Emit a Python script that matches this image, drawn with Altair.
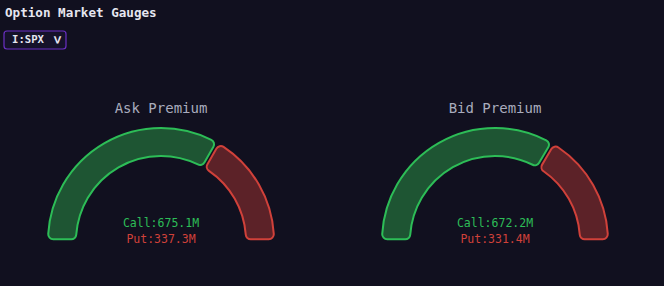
import math
import altair as alt
import pandas as pd

gauges = ["Ask Premium", "Bid Premium"]
sides = ["Call", "Put"]
call_values = [675.1, 672.2]
put_values = [337.3, 331.4]
call_labels = ["Call:675.1M", "Call:672.2M"]
put_labels = ["Put:337.3M", "Put:331.4M"]
ticker = "I:SPX"
main_title = "Option Market Gauges"

rows = []
for g, c, p in zip(gauges, call_values, put_values):
    rows.append({"gauge": g, "side": "Call", "value": c, "idx": 0})
    rows.append({"gauge": g, "side": "Put", "value": p, "idx": 1})
arc_df = pd.DataFrame(rows)
lab_df = pd.DataFrame({"gauge": gauges, "call": call_labels, "put": put_labels})

BG = "#11101f"
FONT = "DejaVu Sans Mono"
centers = [161, 495]
CY = 241

layers = []
for g, cx in zip(gauges, centers):
    arc = alt.Chart(arc_df).transform_filter(alt.datum.gauge == g).mark_arc(
        innerRadius=85, outerRadius=113, cornerRadius=5, padAngle=0.025, strokeWidth=2
    ).encode(
        theta=alt.Theta("value:Q", stack="normalize",
                        scale=alt.Scale(range=[-math.pi / 2, math.pi / 2])),
        order=alt.Order("idx:Q"),
        fill=alt.Fill("side:N", scale=alt.Scale(domain=sides, range=["#1e5533", "#5c2228"]), legend=None),
        stroke=alt.Stroke("side:N", scale=alt.Scale(domain=sides, range=["#2dbd57", "#d0413a"]), legend=None),
        x=alt.value(cx), y=alt.value(CY),
    )
    base = alt.Chart(lab_df).transform_filter(alt.datum.gauge == g)
    title = base.mark_text(font=FONT, fontSize=14, color="#a9acbd", align="center", baseline="middle").encode(
        text="gauge:N", x=alt.value(cx), y=alt.value(109))
    call = base.mark_text(font=FONT, fontSize=11.5, color="#2dbd57", align="center", baseline="middle").encode(
        text="call:N", x=alt.value(cx), y=alt.value(224))
    put = base.mark_text(font=FONT, fontSize=11.5, color="#d0413a", align="center", baseline="middle").encode(
        text="put:N", x=alt.value(cx), y=alt.value(240))
    layers += [arc, title, call, put]

hdr = alt.Chart(pd.DataFrame({"t": [main_title]})).mark_text(
    font=FONT, fontSize=12.6, fontWeight="bold", color="#e6e6f0", align="left", baseline="middle"
).encode(text="t:N", x=alt.value(5), y=alt.value(13))

box = alt.Chart(pd.DataFrame({"t": [ticker]})).mark_rect(
    fill="#15122a", stroke="#6a2fc4", strokeWidth=1.2, cornerRadius=3
).encode(x=alt.value(4), x2=alt.value(66), y=alt.value(31), y2=alt.value(49))
box_txt = alt.Chart(pd.DataFrame({"t": [ticker]})).mark_text(
    font=FONT, fontSize=10.6, fontWeight="bold", color="#e6e6f0", align="left", baseline="middle"
).encode(text="t:N", x=alt.value(12), y=alt.value(40))
chev = alt.Chart(pd.DataFrame({"t": [">"]})).mark_text(
    font=FONT, fontSize=14, fontWeight="bold", color="#e6e6f0", angle=90, align="center", baseline="middle"
).encode(text="t:N", x=alt.value(57), y=alt.value(40))

chart = alt.layer(hdr, box, box_txt, chev, *layers).properties(
    width=664, height=286, background=BG, padding=0,
    autosize=alt.AutoSizeParams(type="none"),
).configure_view(stroke=None)

chart.save("out.html", embed_options={"renderer": "svg", "actions": False})
